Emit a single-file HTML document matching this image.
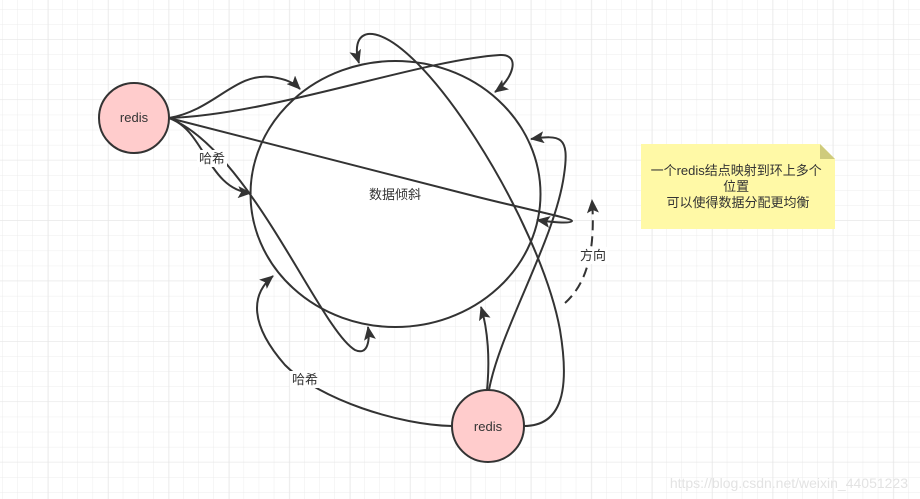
<!DOCTYPE html>
<html><head><meta charset="utf-8"><style>
html,body{margin:0;padding:0;background:#fff;}
svg{display:block;}
text{font-family:"Liberation Sans","Noto Sans CJK SC",sans-serif;}
</style></head><body>
<svg width="920" height="499" viewBox="0 0 920 499" xmlns="http://www.w3.org/2000/svg">
<defs>
<pattern id="g" x="2" y="9" width="15.1" height="15.1" patternUnits="userSpaceOnUse">
<path d="M0 0H15.1M0 0V15.1" stroke="#ececec" stroke-width="1" fill="none"/>
</pattern>
<pattern id="G" x="48" y="39" width="60.4" height="60.4" patternUnits="userSpaceOnUse">
<path d="M0 0H60.4M0 0V60.4" stroke="#e6e6e6" stroke-width="1" fill="none"/>
</pattern>
<marker id="a" viewBox="0 0 14 12" refX="13" refY="6" markerWidth="14" markerHeight="12" markerUnits="userSpaceOnUse" orient="auto">
<path d="M0 0L14 6L0 12L3 6Z" fill="#333"/>
</marker>
</defs>
<rect width="920" height="499" fill="#fff"/>
<rect width="920" height="499" fill="url(#g)"/>
<rect width="920" height="499" fill="url(#G)"/>

<ellipse cx="395.5" cy="194" rx="145" ry="133" fill="#fff" stroke="#333" stroke-width="2"/>
<text x="395" y="199" font-size="13" text-anchor="middle" fill="#333">数据倾斜</text>

<g fill="none" stroke="#333" stroke-width="2">
<path d="M169,118 C215,110 235,72 272,77 C285,79 293,82 300,89" marker-end="url(#a)"/>
<path d="M169,118 C270,115 420,60 500,55 C522,54 512,80 495,92" marker-end="url(#a)"/>
<path d="M169,118 L470,195 C520,208 572,218 572,221 C570,224 550,222 537,220" marker-end="url(#a)"/>
<path d="M169,118 C205,130 208,190 251,193" marker-end="url(#a)"/>
<path d="M169,118 C250,150 320,330 355,350 C368,356 370,340 368,327" marker-end="url(#a)"/>
<path d="M487,390 C490,360 488,330 481,307" marker-end="url(#a)"/>
<path d="M489,390 C500,330 555,240 564,175 C570,135 560,135 531,139" marker-end="url(#a)"/>
<path d="M524,426 C562,426 570,390 560,330 C540,220 420,30 368,34 C356,36 355,50 359,63" marker-end="url(#a)"/>
<path d="M452,426 C400,425 320,400 285,365 C250,325 250,295 273,276" marker-end="url(#a)"/>
<path d="M565,303 C585,285 596,255 592,200" stroke-dasharray="10,6" marker-end="url(#a)"/>
</g>

<rect x="197" y="150" width="30" height="17" fill="#fff"/>
<text x="212" y="163" font-size="13" text-anchor="middle" fill="#333">哈希</text>
<rect x="290" y="371" width="30" height="17" fill="#fff"/>
<text x="305" y="384" font-size="13" text-anchor="middle" fill="#333">哈希</text>
<rect x="578" y="247" width="30" height="17" fill="#fff"/>
<text x="593" y="260" font-size="13" text-anchor="middle" fill="#333">方向</text>

<circle cx="134" cy="118" r="35" fill="#ffcccc" stroke="#333" stroke-width="2"/>
<text x="134" y="122" font-size="13" text-anchor="middle" fill="#333">redis</text>
<circle cx="488" cy="426" r="36" fill="#ffcccc" stroke="#333" stroke-width="2"/>
<text x="488" y="431" font-size="13" text-anchor="middle" fill="#333">redis</text>

<path d="M641,144 H820 L835,159 V229 H641 Z" fill="#fff9a6"/>
<path d="M820,144 L835,159 H820 Z" fill="#cfcb7c"/>
<text font-size="13" text-anchor="middle" fill="#333">
<tspan x="738" y="175">一个redis结点映射到环上多个</tspan>
<tspan x="738" y="191">位置</tspan>
<tspan x="738" y="207">可以使得数据分配更均衡</tspan>
</text>

<text x="908" y="488" font-size="14" text-anchor="end" fill="#e3e3e3">https://blog.csdn.net/weixin_44051223</text>
</svg>
</body></html>
